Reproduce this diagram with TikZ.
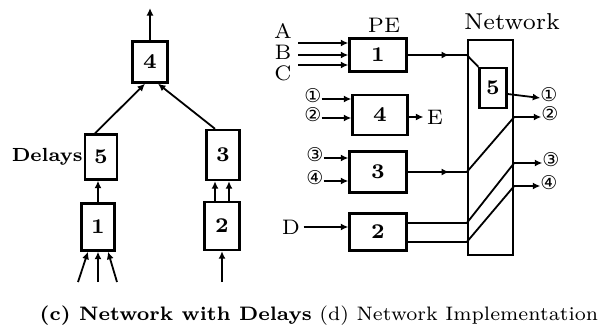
\documentclass[tikz,border=0pt]{standalone}
\usepackage{fontspec}
\setmainfont{lmroman7-regular.otf}[BoldFont=lmroman7-bold.otf]
\newfontfamily\circfont{DejaVu Sans}
\usepackage{tikz}
\usetikzlibrary{arrows.meta,positioning,decorations.markings}

\begin{document}
\begin{tikzpicture}[
  x=1pt, y=-1pt,
  font=\fontsize{21}{24}\selectfont,
  box/.style={draw, line width=2.4pt, inner sep=0pt,
              font=\fontsize{21}{22}\selectfont\bfseries},
  lbox/.style={box, minimum width=34pt, minimum height=46pt},
  pe/.style={box, minimum width=57pt, minimum height=37pt},
  arr/.style={-{Latex[length=7.5pt,width=7pt]}, line width=1.8pt},
  wire/.style={line width=1.8pt},
  midarr/.style={wire, postaction={decorate},
                 decoration={markings, mark=at position #1 with {\arrow{Latex[length=7.5pt,width=7pt]}}}},
  circ/.style={font=\fontsize{19}{20}\selectfont\circfont, inner sep=0pt,
               text height=0.72em, text depth=0.08em}
]
\useasboundingbox (0,0) rectangle (608,335);

\node[lbox, minimum width=35pt, minimum height=41pt] (a4) at (150,62) {4};
\node[lbox, minimum width=32pt, minimum height=45pt] (a5) at (101,157) {5};
\node[lbox, minimum width=33pt, minimum height=47pt] (a1) at (98,227) {1};
\node[lbox, minimum width=33pt, minimum height=50pt] (a3) at (223,155) {3};
\node[lbox, minimum width=35pt, minimum height=48pt] (a2) at (222,226) {2};
\node[left=0pt of a5, inner sep=1pt, font=\fontsize{19}{22}\selectfont\bfseries] (delays) {Delays};

\coordinate (out4) at (150,8);
\coordinate (in2) at (222,282);
\coordinate (in1a) at (78,282);
\coordinate (in1b) at (98,282);
\coordinate (in1c) at (117,282);

\draw[arr] (a4.north) -- (out4);
\draw[arr] ([xshift=-6pt]a5.north) -- ([xshift=-5pt]a4.south);
\draw[arr] ([xshift=-8pt]a3.north) -- ([xshift=8pt]a4.south);
\draw[arr] (a1.north) -- (a1.north |- a5.south);
\draw[arr] ([xshift=-7pt]a2.north) -- ([xshift=-7pt]a2.north |- a3.south);
\draw[arr] ([xshift=7pt]a2.north) -- ([xshift=7pt]a2.north |- a3.south);
\draw[arr] (in2) -- (a2.south);
\draw[arr] (in1a) -- ([xshift=-10pt]a1.south);
\draw[arr] (in1b) -- (a1.south);
\draw[arr] (in1c) -- ([xshift=10pt]a1.south);

\node (pe) at (384,25) {PE};
\node[pe, minimum height=33pt] (b1) at (378,55) {1};
\node[pe, minimum width=55pt, minimum height=40pt] (b4) at (380,115) {4};
\node[pe, minimum height=41pt] (b3) at (378,172) {3};
\node[pe] (b2) at (378,232) {2};
\node[draw, line width=2.4pt, minimum width=45pt, minimum height=215pt] (net) at (490.5,147.5) {};
\node[font=\fontsize{23}{24}\selectfont] (netlbl) at (512,22) {Network};
\node[box, minimum width=27pt, minimum height=40pt] (b5) at (493,88) {5};

\node[inner sep=0pt] (A) at (283,31) {A};
\node[inner sep=0pt] (B) at (283,52) {B};
\node[inner sep=0pt] (C) at (283,73) {C};
\coordinate (inA) at (298,43);
\coordinate (inB) at (298,55);
\coordinate (inC) at (298,65);
\draw[arr] (inA) -- (inA -| b1.west);
\draw[arr] (inB) -- (inB -| b1.west);
\draw[arr] (inC) -- (inC -| b1.west);

\node[circ] (i1) at (313,99) {①};
\node[circ] (i2) at (313,118) {②};
\draw[arr] (i1.east) -- (i1.east -| b4.west);
\draw[arr] (i2.east) -- (i2.east -| b4.west);
\node (E) at (435,117) {E};
\draw[arr] (b4.east |- E) -- (E.west);

\node[circ] (i3) at (315,158) {③};
\node[circ] (i4) at (315,181) {④};
\draw[arr] (i3.east) -- (i3.east -| b3.west);
\draw[arr] (i4.east) -- (i4.east -| b3.west);

\node (D) at (291,227) {D};
\draw[arr] (D.east) -- (D.east -| b2.west);

\node[circ] (o1) at (549,98) {①};
\node[circ] (o2) at (550,117) {②};
\node[circ] (o3) at (551,163) {③};
\node[circ] (o4) at (549,186) {④};

\draw[midarr=0.7] (b1.east) -- (b1.east -| net.west);
\draw[wire] (b1.east -| net.west) -- (b5.north west);
\draw[arr] ([yshift=-6pt]b5.east) -- (o1.west);

\draw[midarr=0.7] (b3.east) -- (b3.east -| net.west);
\draw[wire] (b3.east -| net.west) -- (net.east |- o2);
\draw[arr] (net.east |- o2) -- (o2.west);

\coordinate (b2a) at ([yshift=9pt]b2.east);
\coordinate (b2b) at ([yshift=-10pt]b2.east);
\draw[wire] (b2a) -- (b2a -| net.west) -- (net.east |- o3);
\draw[arr] (net.east |- o3) -- (o3.west);
\draw[wire] (b2b) -- (b2b -| net.west) -- (net.east |- o4);
\draw[arr] (net.east |- o4) -- (o4.west);

\node[font=\fontsize{19.5}{22}\selectfont] (cap) at (319,316) {{\bfseries (c) Network with Delays} (d) Network Implementation};

\end{tikzpicture}
\end{document}
